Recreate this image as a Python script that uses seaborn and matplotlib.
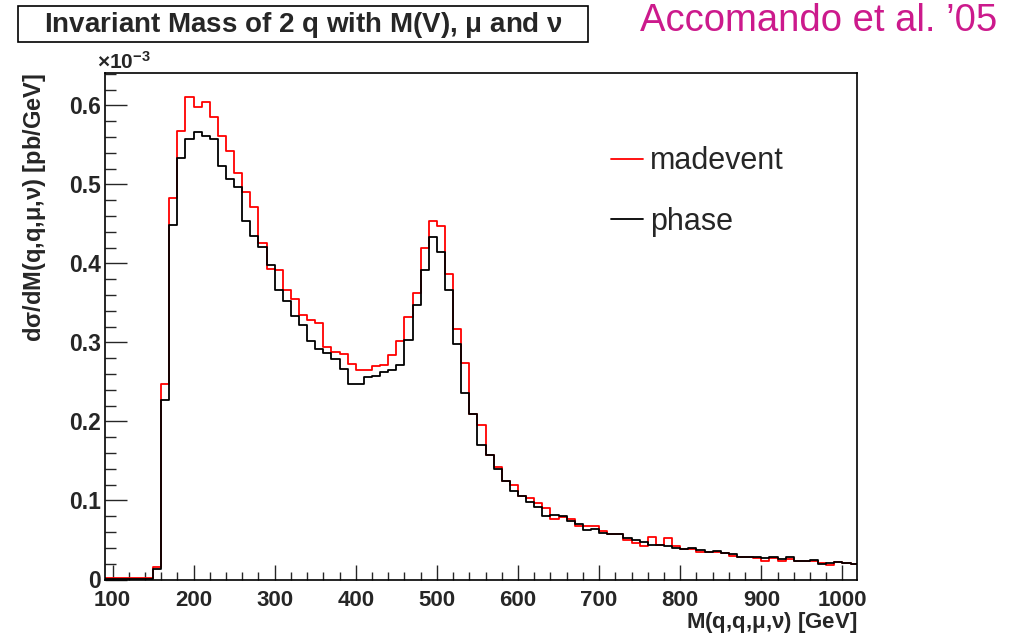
import numpy as np
import pandas as pd
import matplotlib
matplotlib.use("Agg")
import matplotlib.pyplot as plt
import seaborn as sns
from matplotlib.ticker import AutoMinorLocator, FixedLocator
from matplotlib.patches import Rectangle

# ---------------- data (values in units of 1e-3 pb/GeV) ----------------
bin_edges = list(range(90, 1030, 10))  # 10 GeV bins, 90 .. 1020 GeV

madevent = [0.002, 0.002, 0.002, 0.002, 0.002, 0.002, 0.016, 0.248, 0.483, 0.568,
            0.611, 0.598, 0.604, 0.585, 0.561, 0.542, 0.515, 0.491, 0.471, 0.426,
            0.393, 0.392, 0.366, 0.355, 0.335, 0.329, 0.324, 0.294, 0.288, 0.285,
            0.273, 0.265, 0.265, 0.270, 0.271, 0.284, 0.302, 0.332, 0.362, 0.420,
            0.454, 0.448, 0.387, 0.317, 0.274, 0.209, 0.196, 0.158, 0.142, 0.125,
            0.119, 0.106, 0.103, 0.097, 0.090, 0.076, 0.079, 0.077, 0.068, 0.068,
            0.068, 0.062, 0.058, 0.058, 0.050, 0.046, 0.043, 0.054, 0.044, 0.053,
            0.042, 0.038, 0.039, 0.035, 0.035, 0.035, 0.033, 0.030, 0.028, 0.029,
            0.027, 0.024, 0.027, 0.023, 0.026, 0.023, 0.024, 0.024, 0.021, 0.018,
            0.022, 0.021, 0.020]

phase = [0.001, 0.001, 0.001, 0.001, 0.001, 0.001, 0.013, 0.227, 0.449, 0.533,
         0.558, 0.566, 0.561, 0.557, 0.523, 0.507, 0.497, 0.454, 0.435, 0.421,
         0.398, 0.367, 0.352, 0.333, 0.322, 0.302, 0.292, 0.287, 0.279, 0.267,
         0.247, 0.248, 0.256, 0.257, 0.262, 0.265, 0.272, 0.303, 0.347, 0.392,
         0.433, 0.414, 0.367, 0.298, 0.236, 0.209, 0.170, 0.157, 0.140, 0.125,
         0.112, 0.106, 0.098, 0.092, 0.080, 0.081, 0.080, 0.074, 0.070, 0.063,
         0.064, 0.059, 0.058, 0.057, 0.052, 0.050, 0.047, 0.044, 0.044, 0.043,
         0.040, 0.038, 0.040, 0.037, 0.035, 0.036, 0.033, 0.032, 0.029, 0.028,
         0.028, 0.027, 0.028, 0.026, 0.029, 0.023, 0.024, 0.025, 0.020, 0.021,
         0.022, 0.021, 0.019]

series_names = ["madevent", "phase"]
series_colors = ["#ff0000", "#000000"]

xticks = [100, 200, 300, 400, 500, 600, 700, 800, 900, 1000]
xtick_labels = ["100", "200", "300", "400", "500", "600", "700", "800", "900", "1000"]
yticks = [0.0, 0.1, 0.2, 0.3, 0.4, 0.5, 0.6]
ytick_labels = ["0", "0.1", "0.2", "0.3", "0.4", "0.5", "0.6"]

title_text = r"Invariant Mass of 2 q with M(V), $\mu$ and $\nu$"
xlabel_text = r"M(q,q,$\mu$,$\nu$) [GeV]"
ylabel_text = r"d$\sigma$/dM(q,q,$\mu$,$\nu$) [pb/GeV]"
author_text = "Accomando et al. \u201905"
exponent_text = r"$\times\mathbf{10^{-3}}$"

# ---------------- style ----------------
sns.set_style("ticks")
plt.rcParams["font.family"] = ["Liberation Sans", "DejaVu Sans"]
plt.rcParams["font.weight"] = "bold"
plt.rcParams["mathtext.fontset"] = "custom"
plt.rcParams["mathtext.rm"] = "Liberation Sans"
plt.rcParams["mathtext.it"] = "Liberation Sans"
plt.rcParams["mathtext.bf"] = "Liberation Sans:bold"
plt.rcParams["mathtext.fallback"] = "stix"

W, H = 1014, 636
fig = plt.figure(figsize=(W / 100, H / 100), dpi=100)
ax = fig.add_axes([105 / W, 1 - 579.5 / H, (857.5 - 105) / W, (579.5 - 73) / H])

centers = [(a + b) / 2 for a, b in zip(bin_edges[:-1], bin_edges[1:])]
df = pd.DataFrame({"mass": centers, series_names[0]: madevent, series_names[1]: phase})

for name, col in zip(series_names, series_colors):
    sns.histplot(data=df, x="mass", weights=name, bins=bin_edges, element="step",
                 fill=False, color=col, linewidth=1.3, ax=ax, label=name)

ax.set_xlim(90.75, 1018.6)
ax.set_ylim(0, 0.641)

ax.xaxis.set_major_locator(FixedLocator(xticks))
ax.set_xticklabels(xtick_labels)
ax.yaxis.set_major_locator(FixedLocator(yticks))
ax.set_yticklabels(ytick_labels)
ax.xaxis.set_minor_locator(AutoMinorLocator(5))
ax.yaxis.set_minor_locator(AutoMinorLocator(5))

ax.tick_params(axis="x", which="major", direction="in", length=10.8, width=1.0,
               labelsize=16, pad=7.5, top=False, bottom=True)
ax.tick_params(axis="x", which="minor", direction="in", length=5.5, width=1.0,
               top=False, bottom=True)
ax.tick_params(axis="y", which="major", direction="in", length=15.6, width=1.0,
               labelsize=16.5, pad=3, left=True, right=False)
ax.tick_params(axis="y", which="minor", direction="in", length=7.7, width=1.0,
               left=True, right=False)
for lbl in ax.get_xticklabels() + ax.get_yticklabels():
    lbl.set_fontweight("bold")

for sp in ax.spines.values():
    sp.set_visible(True)
    sp.set_linewidth(1.2)
    sp.set_color("black")

ax.set_xlabel(xlabel_text, fontsize=16, fontweight="bold", loc="right")
ax.xaxis.set_label_coords(1.0, -0.060)
ax.xaxis.label.set_verticalalignment("top")
ax.set_ylabel(ylabel_text, fontsize=17, fontweight="bold", loc="top")
ax.yaxis.set_label_coords(-0.076, 1.0)

handles = ax.get_lines()[:2]
ax.legend(handles=handles, labels=series_names, loc="upper left",
          bbox_to_anchor=(0.672, 0.855), frameon=False, borderpad=0,
          borderaxespad=0, handlelength=1.05, handletextpad=0.24,
          labelspacing=1.0, prop={"family": "Liberation Sans", "weight": "normal", "size": 22})

# title box
fig.patches.append(Rectangle((18 / W, 1 - 42 / H), 570 / W, 36 / H, transform=fig.transFigure,
                             fill=False, edgecolor="black", linewidth=1.2))
fig.text(303 / W, 1 - 32 / H, title_text, ha="center", va="baseline",
         fontsize=20, fontweight="bold")

fig.text(97 / W, 1 - 69 / H, exponent_text, ha="left", va="baseline", fontsize=15)

fig.text(640 / W, 1 - 30.7 / H, author_text, ha="left", va="baseline",
         fontsize=27.5, fontweight="normal", color="#cc1a8c")

fig.savefig("out.png", dpi=100)
